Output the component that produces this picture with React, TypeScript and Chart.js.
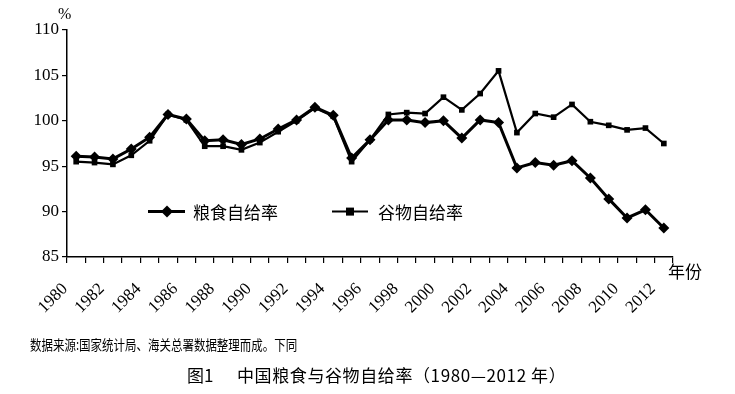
import React, { useEffect, useRef } from "react";
import { Chart, registerables } from "chart.js";

Chart.register(...registerables);

const years = [
  "1980", "1981", "1982", "1983", "1984", "1985", "1986", "1987", "1988", "1989",
  "1990", "1991", "1992", "1993", "1994", "1995", "1996", "1997", "1998", "1999",
  "2000", "2001", "2002", "2003", "2004", "2005", "2006", "2007", "2008", "2009",
  "2010", "2011", "2012",
];

// 粮食自给率 (%)
const grainRate = [
  96.1, 96.0, 95.8, 96.9, 98.2, 100.7, 100.2, 97.8, 97.9, 97.4,
  98.0, 99.1, 100.1, 101.5, 100.6, 95.9, 97.9, 100.1, 100.1, 99.8,
  100.0, 98.1, 100.1, 99.8, 94.8, 95.4, 95.1, 95.6, 93.7, 91.4,
  89.3, 90.2, 88.2,
];

// 谷物自给率 (%)
const cerealRate = [
  95.5, 95.4, 95.2, 96.2, 97.8, 100.7, 100.1, 97.2, 97.2, 96.8,
  97.6, 98.8, 100.0, 101.4, 100.5, 95.5, 97.9, 100.7, 100.9, 100.8,
  102.6, 101.2, 103.0, 105.5, 98.7, 100.8, 100.4, 101.8, 99.9, 99.5,
  99.0, 99.2, 97.5,
];

const seriesNames = ["粮食自给率", "谷物自给率"];
const yTicks = [85, 90, 95, 100, 105, 110];

const legendPlugin = {
  id: "inlineLegend",
  afterDraw(chart: any) {
    const ctx = chart.ctx;
    const y = chart.scales.y.getPixelForValue(90);
    ctx.save();
    ctx.strokeStyle = "#000";
    ctx.fillStyle = "#000";
    // grain legend
    ctx.lineWidth = 3;
    ctx.beginPath();
    ctx.moveTo(148, y);
    ctx.lineTo(185, y);
    ctx.stroke();
    ctx.beginPath();
    const cx = 167, r = 6;
    ctx.moveTo(cx, y - r);
    ctx.lineTo(cx + r, y);
    ctx.lineTo(cx, y + r);
    ctx.lineTo(cx - r, y);
    ctx.closePath();
    ctx.fill();
    // cereal legend
    ctx.lineWidth = 2;
    ctx.beginPath();
    ctx.moveTo(332, y);
    ctx.lineTo(368, y);
    ctx.stroke();
    ctx.fillRect(350 - 4, y - 4, 8, 8);
    ctx.font = '17px "Noto Sans CJK SC"';
    ctx.textBaseline = "middle";
    ctx.textAlign = "left";
    ctx.fillText(seriesNames[0], 193, y + 1);
    ctx.fillText(seriesNames[1], 378, y + 1);
    ctx.restore();
  },
};

export default function App() {
  const ref = useRef<HTMLCanvasElement | null>(null);
  useEffect(() => {
    if (!ref.current) return;
    const chart = new Chart(ref.current, {
      type: "line",
      data: {
        labels: years,
        datasets: [
          {
            label: seriesNames[1],
            data: cerealRate,
            borderColor: "#000",
            backgroundColor: "#000",
            borderWidth: 2.2,
            pointStyle: "rect",
            pointRadius: 4,
            pointBorderWidth: 0,
            tension: 0,
          },
          {
            label: seriesNames[0],
            data: grainRate,
            borderColor: "#000",
            backgroundColor: "#000",
            borderWidth: 3,
            pointStyle: "rectRot",
            pointRadius: 5.5,
            pointBorderWidth: 0,
            tension: 0,
          },
        ],
      },
      options: {
        responsive: false,
        animation: false,
        layout: { padding: { left: 22, right: 62, top: 30, bottom: 77 } },
        plugins: { legend: { display: false }, tooltip: { enabled: false } },
        scales: {
          x: {
            offset: true,
            grid: {
              offset: true,
              drawOnChartArea: false,
              drawTicks: true,
              tickLength: 6,
              color: "#000",
              lineWidth: 1.2,
            },
            border: { display: true, color: "#000", width: 1.5 },
            ticks: {
              autoSkip: false,
              minRotation: 45,
              maxRotation: 45,
              padding: 16,
              labelOffset: -11,
              color: "#000",
              font: { family: '"Liberation Serif", serif', size: 17 },
              callback: (_v: any, i: number) => (i % 2 === 0 ? years[i] : ""),
            },
            afterFit: (s: any) => { s.height = 60; },
          },
          y: {
            min: yTicks[0],
            max: yTicks[yTicks.length - 1],
            afterBuildTicks: (s: any) => { s.ticks = yTicks.map((v) => ({ value: v })); },
            grid: {
              drawOnChartArea: false,
              drawTicks: true,
              tickLength: 5,
              color: "#000",
              lineWidth: 1.2,
            },
            border: { display: true, color: "#000", width: 1.5 },
            ticks: {
              padding: 3,
              color: "#000",
              font: { family: '"Liberation Serif", serif', size: 17 },
            },
            afterFit: (s: any) => { s.width = 45; },
          },
        },
      },
      plugins: [legendPlugin],
    });
    return () => chart.destroy();
  }, []);

  const abs: React.CSSProperties = { position: "absolute", whiteSpace: "nowrap", lineHeight: 1, color: "#000" };
  return (
    <div style={{ position: "absolute", left: 0, top: 0, width: 735, height: 394, background: "#fff" }}>
      <canvas ref={ref} width={735} height={394} style={{ position: "absolute", left: 0, top: 0 }} />
      <div style={{ ...abs, left: 58, top: 6, fontFamily: '"Liberation Serif", serif', fontSize: 16 }}>%</div>
      <div style={{ ...abs, left: 668, top: 262, fontFamily: '"Noto Sans CJK SC"', fontSize: 17 }}>年份</div>
      <div
        style={{
          ...abs,
          left: 30,
          top: 337,
          fontFamily: '"Noto Sans CJK SC"',
          fontSize: 14,
          transform: "scaleX(0.82)",
          transformOrigin: "left top",
        }}
      >
        数据来源:国家统计局、海关总署数据整理而成。下同
      </div>
      <div style={{ ...abs, left: 187, top: 366, fontFamily: '"Noto Sans CJK SC"', fontSize: 17 }}>图1</div>
      <div style={{ ...abs, left: 237, top: 366, fontFamily: '"Noto Sans CJK SC"', fontSize: 17, letterSpacing: 0.6 }}>
        中国粮食与谷物自给率（1980—2012 年）
      </div>
    </div>
  );
}
